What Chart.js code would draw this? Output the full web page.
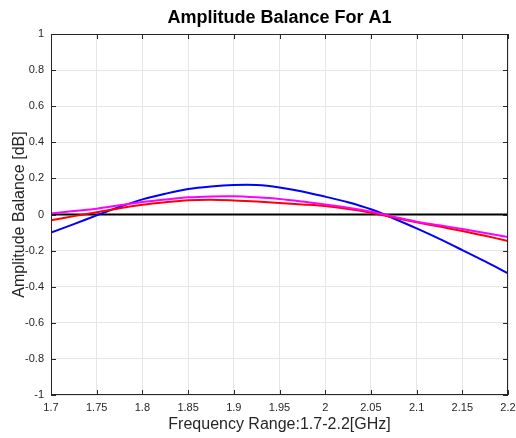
<!DOCTYPE html>
<html>
<head>
<meta charset="utf-8">
<script src="https://cdn.jsdelivr.net/npm/chart.js@4/dist/chart.umd.min.js"></script>
<style>
  html, body { margin: 0; padding: 0; background: #fff; }
  #wrap { width: 516px; height: 438px; }
</style>
</head>
<body>
<div id="wrap"><canvas id="balanceChart" width="516" height="438"></canvas></div>
<script>
// frequency points (GHz)
const freqs = [1.7, 1.725, 1.75, 1.775, 1.8, 1.825, 1.85, 1.875, 1.9, 1.925, 1.95,
               1.975, 2.0, 2.025, 2.05, 2.075, 2.1, 2.125, 2.15, 2.175, 2.2];

// amplitude balance, dB
const blueVals = [-0.10, -0.053, -0.005, 0.042, 0.084, 0.115, 0.141, 0.155, 0.163, 0.163, 0.150,
                  0.128, 0.099, 0.068, 0.029, -0.022, -0.077, -0.135, -0.197, -0.26, -0.326];
const magentaVals = [0.005, 0.019, 0.032, 0.051, 0.069, 0.083, 0.095, 0.100, 0.101, 0.095, 0.086,
                     0.072, 0.056, 0.038, 0.016, -0.012, -0.040, -0.060, -0.080, -0.102, -0.125];
const redVals = [-0.032, -0.009, 0.012, 0.035, 0.054, 0.068, 0.079, 0.082, 0.078, 0.072, 0.064,
                 0.056, 0.047, 0.030, 0.010, -0.017, -0.043, -0.067, -0.091, -0.118, -0.147];
const zeroVals = [0, 0, 0, 0, 0, 0, 0, 0, 0, 0, 0, 0, 0, 0, 0, 0, 0, 0, 0, 0, 0];

const FONT = "'Liberation Sans', Arial, sans-serif";

function pts(vals) {
  return vals.map((v, i) => ({ x: freqs[i], y: v }));
}

function series(vals, color) {
  return {
    data: pts(vals),
    borderColor: color,
    borderWidth: 2,
    pointRadius: 0,
    tension: 0.3,
    fill: false
  };
}

// MATLAB-like box with inward ticks
const frame = {
  id: 'frame',
  afterDatasetsDraw(chart) {
    const { ctx, chartArea: a, scales: { x, y } } = chart;
    ctx.save();
    ctx.strokeStyle = '#262626';
    ctx.lineWidth = 1;
    ctx.beginPath();
    x.ticks.forEach(t => {
      const px = Math.round(x.getPixelForValue(t.value)) + 0.5;
      ctx.moveTo(px, a.bottom); ctx.lineTo(px, a.bottom - 5);
      ctx.moveTo(px, a.top); ctx.lineTo(px, a.top + 5);
    });
    y.ticks.forEach(t => {
      const py = Math.round(y.getPixelForValue(t.value)) + 0.5;
      ctx.moveTo(a.left, py); ctx.lineTo(a.left + 5, py);
      ctx.moveTo(a.right, py); ctx.lineTo(a.right - 5, py);
    });
    ctx.stroke();
    ctx.strokeRect(Math.round(a.left) + 0.5, Math.round(a.top) + 0.5,
                   Math.round(a.width) - 1, Math.round(a.height) - 1);
    ctx.restore();
  }
};

new Chart(document.getElementById('balanceChart'), {
  type: 'line',
  data: {
    datasets: [
      series(magentaVals, '#ff00ff'),
      series(redVals, '#ff0000'),
      series(blueVals, '#0000ff'),
      series(zeroVals, '#000000')
    ]
  },
  options: {
    responsive: false,
    animation: false,
    devicePixelRatio: 1,
    layout: { padding: { left: 0, right: 8, top: 0, bottom: 0 } },
    plugins: {
      legend: { display: false },
      tooltip: { enabled: false },
      title: { display: false }
    },
    scales: {
      // top axis only carries the chart title, centred over the plot area
      top: {
        type: 'linear',
        position: 'top',
        min: 1.7,
        max: 2.2,
        afterFit(s) { s.height = 34; s.paddingLeft = 0; s.paddingRight = 0; },
        grid: { display: false, drawTicks: false },
        border: { display: false },
        ticks: { display: false },
        title: {
          display: true,
          text: 'Amplitude Balance For A1',
          color: '#000',
          font: { family: FONT, size: 18, weight: 'bold' },
          padding: { top: 7.2, bottom: 0 }
        }
      },
      x: {
        type: 'linear',
        min: 1.7,
        max: 2.2,
        afterFit(s) { s.height = 43; s.paddingLeft = 0; s.paddingRight = 0; },
        grid: { color: '#e6e6e6', drawTicks: false },
        border: { display: false },
        ticks: {
          stepSize: 0.05,
          autoSkip: false,
          maxRotation: 0,
          padding: 6,
          color: '#262626',
          font: { family: FONT, size: 11 },
          callback: v => Number(v.toFixed(2)).toString()
        },
        title: {
          display: true,
          text: 'Frequency Range:1.7-2.2[GHz]',
          color: '#262626',
          font: { family: FONT, size: 16 },
          padding: { top: 0, bottom: 3.4 }
        }
      },
      y: {
        min: -1,
        max: 1,
        afterFit(s) { s.width = 51; },
        grid: { color: '#e6e6e6', drawTicks: false },
        border: { display: false },
        ticks: {
          stepSize: 0.2,
          padding: 7,
          color: '#262626',
          font: { family: FONT, size: 11 },
          callback: v => Number(v.toFixed(1)).toString()
        },
        title: {
          display: true,
          text: 'Amplitude Balance [dB]',
          color: '#262626',
          font: { family: FONT, size: 16 },
          padding: { top: 10.4, bottom: 0 }
        }
      }
    }
  },
  plugins: [frame]
});
</script>
</body>
</html>
